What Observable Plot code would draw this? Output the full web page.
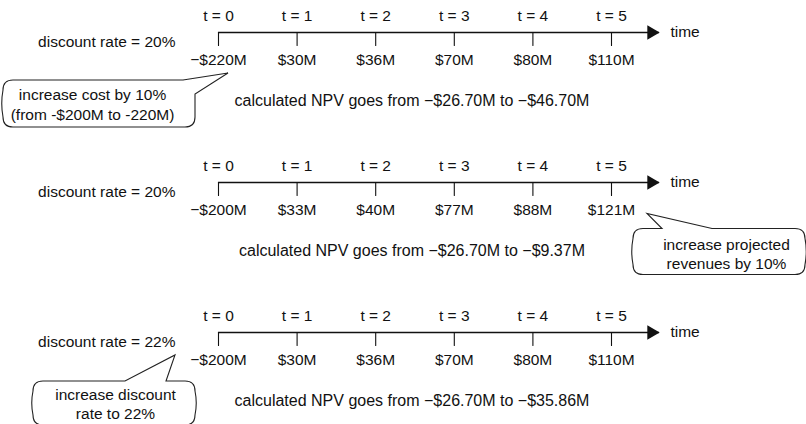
<!DOCTYPE html>
<html><head><meta charset="utf-8">
<script src="https://cdn.jsdelivr.net/npm/d3@7"></script>
<script src="https://cdn.jsdelivr.net/npm/@observablehq/plot@0.6"></script>
<style>
html,body{margin:0;padding:0;background:#fff;}
</style></head><body><div id="chart"></div>
<script>
// ---- data ----
const times = [0, 1, 2, 3, 4, 5];
const scenarios = ["cost", "revenue", "discount"];
const discountRates = ["20%", "20%", "22%"];
const cashFlowsCost = [-220, 30, 36, 70, 80, 110];
const cashFlowsRevenue = [-200, 33, 40, 77, 88, 121];
const cashFlowsDiscount = [-200, 30, 36, 70, 80, 110];
const npvBefore = ["−$26.70M", "−$26.70M", "−$26.70M"];
const npvAfter = ["−$46.70M", "−$9.37M", "−$35.86M"];
const calloutLines = [
  ["increase cost by 10%", "(from -$200M to -220M)"],
  ["increase projected", "revenues by 10%"],
  ["increase discount", "rate to 22%"]
];
const calloutTime = [0, 5, 0];

// ---- derived table ----
const flows = [cashFlowsCost, cashFlowsRevenue, cashFlowsDiscount];
const points = scenarios.flatMap((s, i) => times.map((t, j) => ({scenario: s, t, value: flows[i][j]})));
const fmt = v => v < 0 ? `−$${-v}M` : `$${v}M`;

// ---- layout (not data) ----
const AXIS_END = 5.61;
const INK = "#111";
const FONT = 15.5;
const calloutLayout = [
  {dx: -126, dy: 71, lh: 1.29, type: "topright", box: [-215, 48, -23, 95], tip: [10, 41], a: [-35, 48], b: [-23, 62]},
  {dx: 115, dy: 71, lh: 1.23, type: "top", box: [22, 46.5, 194, 92.5], tip: [36, 31.5], a: [51, 46.5], b: [101, 46.5]},
  {dx: -103, dy: 70.5, lh: 1.23, type: "top", box: [-185, 49, -23, 93], tip: [-43, 23], a: [-93, 49], b: [-52, 49]}
];

function calloutPath(L, cx, cy) {
  const [x0, y0, x1, y1] = [L.box[0] + cx, L.box[1] + cy, L.box[2] + cx, L.box[3] + cy];
  const r = 10, bulge = 2.5;
  const tx = L.tip[0] + cx, ty = L.tip[1] + cy;
  const ax = L.a[0] + cx, ay = L.a[1] + cy, bx = L.b[0] + cx, by = L.b[1] + cy;
  const p = d3.path();
  p.moveTo(x0 + r, y0);
  p.lineTo(ax, ay);
  p.lineTo(tx, ty);
  p.lineTo(bx, by);
  if (L.type === "top") {
    p.lineTo(x1 - r, y0);
    p.quadraticCurveTo(x1, y0, x1, y0 + r);
    p.quadraticCurveTo(x1 + bulge, (y0 + y1) / 2, x1, y1 - r);
  } else {
    p.lineTo(x1, y1 - r);
  }
  p.quadraticCurveTo(x1, y1, x1 - r, y1);
  p.lineTo(x0 + r, y1);
  p.quadraticCurveTo(x0, y1, x0, y1 - r);
  p.quadraticCurveTo(x0 - bulge, (y0 + y1) / 2, x0, y0 + r);
  p.quadraticCurveTo(x0, y0, x0 + r, y0);
  p.closePath();
  return p.toString();
}

const calloutMark = (index, scales) => {
  const g = d3.create("svg:g");
  scenarios.forEach((s, i) => {
    const cx = scales.x(calloutTime[i]), cy = scales.y(s);
    g.append("path")
      .attr("d", calloutPath(calloutLayout[i], cx, cy))
      .attr("fill", "white")
      .attr("stroke", "#222")
      .attr("stroke-width", 1.1);
  });
  return g.node();
};

const calloutTexts = scenarios.map((s, i) =>
  Plot.text([s], {
    x: () => calloutTime[i],
    y: d => d,
    text: () => calloutLines[i].join("\n"),
    dx: calloutLayout[i].dx,
    dy: calloutLayout[i].dy,
    lineHeight: calloutLayout[i].lh,
    fontSize: FONT,
    fill: INK
  })
);

const tickShape = {draw(context, l) { context.moveTo(0, 0); context.lineTo(0, -l); }};

const chart = Plot.plot({
  width: 806,
  height: 424,
  margin: 0,
  x: {domain: [0, 5], range: [218, 611], axis: null},
  y: {type: "point", domain: scenarios, range: [31, 332], padding: 0, axis: null},
  style: {fontFamily: "'Liberation Sans', Arial, Helvetica, sans-serif", background: "white", color: INK},
  marks: [
    Plot.ruleY(scenarios, {y: d => d, x1: 0, x2: AXIS_END, stroke: INK, strokeWidth: 1.3}),
    Plot.dot(scenarios, {y: d => d, x: AXIS_END, symbol: "triangle", r: 5.3, rotate: 90, fill: INK, stroke: null, dx: -8}),
    Plot.vector(points, {x: "t", y: "scenario", length: 13, rotate: 180, anchor: "start", shape: tickShape, stroke: INK, strokeWidth: 1.1}),
    Plot.text(points, {x: "t", y: "scenario", text: d => `t = ${d.t}`, dy: -16, fontSize: FONT, fill: INK}),
    Plot.text(points, {x: "t", y: "scenario", text: d => fmt(d.value), dy: 28, fontSize: FONT, fill: INK}),
    Plot.text(scenarios, {y: d => d, x: AXIS_END, text: () => "time", textAnchor: "start", dx: 11, fontSize: FONT, fill: INK}),
    Plot.text(scenarios, {y: d => d, x: 0, text: (d, i) => `discount rate = ${discountRates[i]}`, textAnchor: "end", dx: -43, dy: 10, fontSize: FONT, fill: INK}),
    Plot.text(scenarios, {y: d => d, x: 2.5, text: (d, i) => `calculated NPV goes from ${npvBefore[i]} to ${npvAfter[i]}`, dy: 68, dx: -3, fontSize: 16, fill: INK}),
    calloutMark,
    ...calloutTexts
  ]
});
document.getElementById("chart").appendChild(chart);
</script>
</body></html>
